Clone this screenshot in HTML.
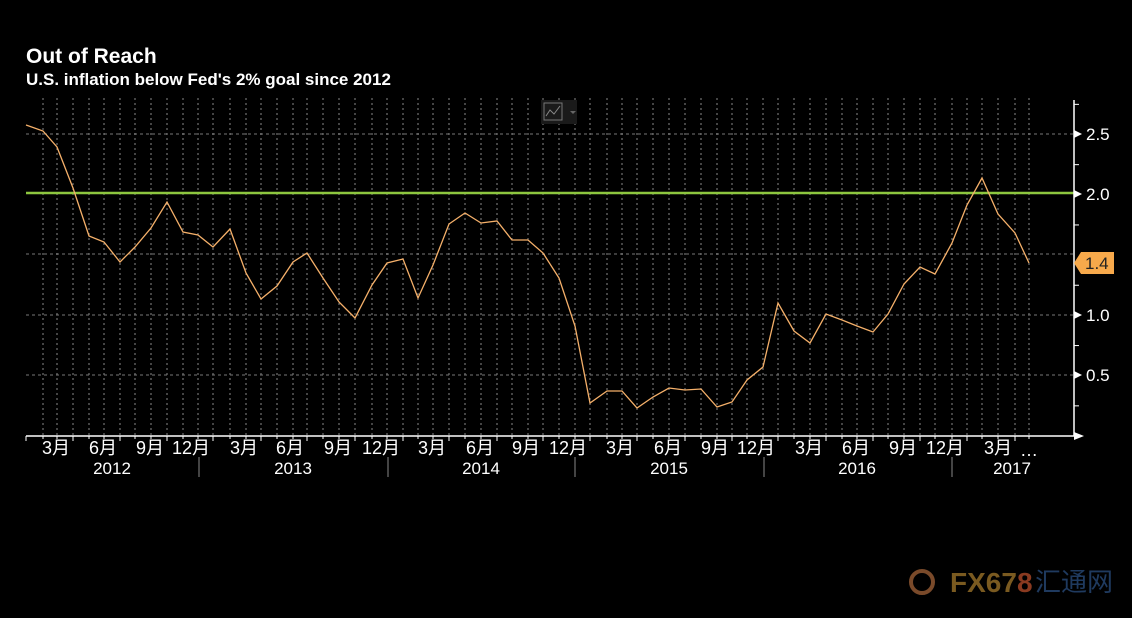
<!DOCTYPE html>
<html><head><meta charset="utf-8"><style>
html,body{margin:0;padding:0;background:#000;}
body{width:1132px;height:618px;overflow:hidden;position:relative;font-family:"Liberation Sans","Noto Sans CJK SC",sans-serif;}
.t1{position:absolute;left:26px;top:45px;color:#fff;font-weight:bold;font-size:21px;}
.t2{position:absolute;left:26px;top:70px;color:#fff;font-weight:bold;font-size:17px;}
</style></head><body>
<div class="t1">Out of Reach</div>
<div class="t2">U.S. inflation below Fed's 2% goal since 2012</div>
<svg width="1132" height="618" style="position:absolute;left:0;top:0" xmlns="http://www.w3.org/2000/svg">
<g id="vg" stroke="#888" stroke-width="1" stroke-dasharray="2,3"></g>
<g stroke="#777" stroke-width="1" stroke-dasharray="3,3">
<line x1="26" y1="134" x2="1074" y2="134"/>
<line x1="26" y1="254" x2="1074" y2="254"/>
<line x1="26" y1="315" x2="1074" y2="315"/>
<line x1="26" y1="375" x2="1074" y2="375"/>
</g>
<line x1="26" y1="193" x2="1074" y2="193" stroke="#8dc63f" stroke-width="2.5"/>
<rect x="541" y="100" width="36" height="24" fill="#1a1a1a"/>
<rect x="544" y="103" width="18" height="17" fill="none" stroke="#777"/>
<polyline points="546,116 550,110 554,114 560,106" fill="none" stroke="#888"/>
<polygon points="570,111 576,111 573,114" fill="#666"/>
<polyline fill="none" stroke="#f5b06a" stroke-width="1.3" points="26,125 43,131 57,147 73,188 89,236 104,242 120,262 135,247 151,228 167,202 183,232 198,235 213,247 230,229 246,273 261,299 277,286 293,262 307,253 323,278 339,302 355,318 372,285 387,263 403,259 418,298 433,265 449,224 465,213 481,223 497,221 512,240 528,240 543,253 559,278 575,326 590,403 607,391 622,391 637,408 653,397 669,388 685,390 701,389 717,407 732,402 747,380 763,367 778,303 794,331 810,343 826,314 842,320 857,326 873,332 888,314 904,284 920,267 935,274 952,243 967,205 982,178 998,214 1015,233 1029,263"/>
<line x1="1074" y1="100" x2="1074" y2="436" stroke="#fff" stroke-width="1.5"/>
<line x1="26" y1="436" x2="1074" y2="436" stroke="#fff" stroke-width="1.5"/>
<g id="ax" stroke="#fff" stroke-width="1"></g>
<g fill="#fff">
<polygon points="1074,130 1082,134 1074,138"/>
<polygon points="1074,190 1082,194 1074,198"/>
<polygon points="1074,311 1082,315 1074,319"/>
<polygon points="1074,371 1082,375 1074,379"/>
<polygon points="1074,432 1084,436 1074,440"/>
</g>
<g fill="#fff" font-family="Liberation Sans,sans-serif" font-size="17">
<text x="1086" y="140">2.5</text>
<text x="1086" y="200">2.0</text>
<text x="1086" y="321">1.0</text>
<text x="1086" y="381">0.5</text>
</g>
<polygon points="1074,263 1081,252 1114,252 1114,274 1081,274" fill="#f7a94b"/>
<text x="1085" y="269" font-size="17" fill="#222" font-family="Liberation Sans,sans-serif">1.4</text>
<g id="lb" fill="#fff" font-size="18" font-family="Liberation Sans,'Noto Sans CJK SC',sans-serif" text-anchor="end"></g>
<g fill="#fff" font-size="17" font-family="Liberation Sans,sans-serif" text-anchor="middle">
<text x="112" y="474">2012</text><text x="293" y="474">2013</text><text x="481" y="474">2014</text>
<text x="669" y="474">2015</text><text x="857" y="474">2016</text><text x="1012" y="474">2017</text>
</g>
<g stroke="#888"><line x1="199" y1="457" x2="199" y2="477"/><line x1="388" y1="457" x2="388" y2="477"/><line x1="575" y1="457" x2="575" y2="477"/><line x1="764" y1="457" x2="764" y2="477"/><line x1="952" y1="457" x2="952" y2="477"/></g>
<text x="1020" y="456" fill="#fff" font-size="18" font-family="Liberation Sans,sans-serif">…</text>
<circle cx="922" cy="582" r="11" fill="none" stroke="#7a4a2a" stroke-width="4"/>
<text x="950" y="592" fill="#7a5a20" font-size="28" font-weight="bold" font-family="Liberation Sans,sans-serif">FX67<tspan fill="#8a3a20">8</tspan></text>
<text x="1035" y="591" fill="#1f3a5f" font-size="26" font-family="'Noto Sans CJK SC',sans-serif">汇通网</text>
</svg>
<script>
var ns="http://www.w3.org/2000/svg",vg=document.getElementById('vg'),ax=document.getElementById('ax'),lb=document.getElementById('lb');
var xs=[26,43,57,73,89,104,120,135,151,167,183,198,213,230,246,261,277,293,307,323,339,355,372,387,403,418,433,449,465,481,497,512,528,543,559,575,590,607,622,637,653,669,685,701,717,732,747,763,778,794,810,826,842,857,873,888,904,920,935,952,967,982,998,1015,1029];
function L(g,a,b,c,d){var l=document.createElementNS(ns,'line');l.setAttribute('x1',a);l.setAttribute('y1',b);l.setAttribute('x2',c);l.setAttribute('y2',d);g.appendChild(l);}
for(var i=0;i<xs.length;i++){var x=xs[i]; if(i>0)L(vg,x,98,x,436); L(ax,x,436,x,(i%3==0)?441:439);}
var m=['3月','6月','9月','12月'];
for(var i=1;i<=21;i++){var idx=i*3;var x=xs[idx];var t=document.createElementNS(ns,'text');t.setAttribute('x',x-3);t.setAttribute('y',454);t.textContent=m[(i-1)%4];lb.appendChild(t);}
for(var v=0.25;v<2.8;v+=0.5){var y=436-120.6*v;L(ax,1074,y,1079,y);}
</script>
</body></html>
